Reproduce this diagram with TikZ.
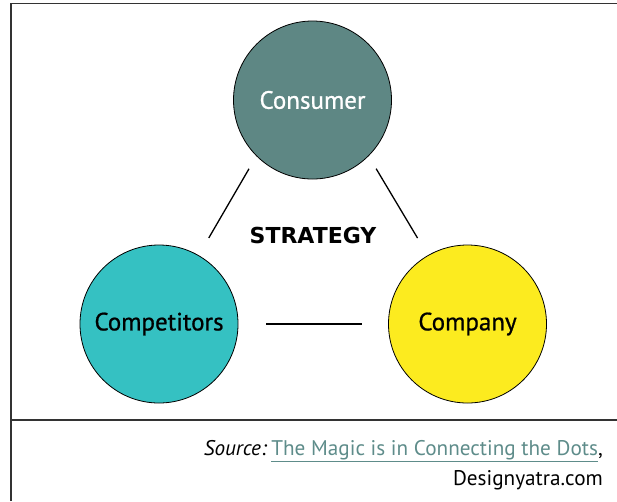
\documentclass[tikz,border=0pt]{standalone}
\usepackage{fontspec}
\usepackage{xcolor}
\usepackage{tikz}
\usetikzlibrary{positioning}
\newfontfamily\circfont[FakeBold=0.8]{PT Sans}
\newfontfamily\srcfont{PT Sans}
\newfontfamily\headfont{DejaVu Sans}
\definecolor{consumercol}{HTML}{5E8784}
\definecolor{competcol}{HTML}{35C1C2}
\definecolor{companycol}{HTML}{FCEB1F}
\definecolor{linkcol}{HTML}{5E8C8A}

\begin{document}
\begin{tikzpicture}[x=1pt,y=-1pt,
  circ/.style={circle,draw=black,line width=0.8pt,minimum size=158pt,inner sep=0pt,
    font=\circfont\fontsize{25}{30}\selectfont},
  link/.style={line width=1.3pt},
  frame/.style={line width=1.1pt,draw=black!80}]
  \useasboundingbox (0,0) rectangle (617,501);
  \draw[frame] (11,501) -- (11,3.5) -- (617,3.5);
  \draw[frame] (11,420) -- (617,420);
  \node[circ,fill=consumercol,text=white] (cons) at (312.5,100) {Consumer};
  \node[circ,fill=competcol] (comp) at (159,324) {Competitors};
  \node[circ,fill=companycol] (cmpy) at (467.5,324) {Company};
  \node[font=\headfont\bfseries\fontsize{22}{26}\selectfont,anchor=base] (strat) at (313,243) {STRATEGY};
  \draw[link,shorten <=20pt,shorten >=14.6pt] (comp.60) -- (cons.225);
  \draw[link,shorten <=14.6pt,shorten >=20pt] (cons.-45) -- (cmpy.120);
  \draw[link,shorten <=28pt,shorten >=26pt] (comp.east) -- (cmpy.west);
  \node[font=\srcfont\fontsize{21.2}{25}\selectfont,anchor=base east,inner sep=0pt] (src) at (603,455)
    {\textit{Source:}\hspace{0.2em}\textcolor{linkcol}{\underline{The Magic is in Connecting the Dots}},};
  \node[font=\srcfont\fontsize{21.2}{25}\selectfont,anchor=base east,inner sep=0pt] (site) at (603,485)
    {Designyatra.com};
\end{tikzpicture}
\end{document}
